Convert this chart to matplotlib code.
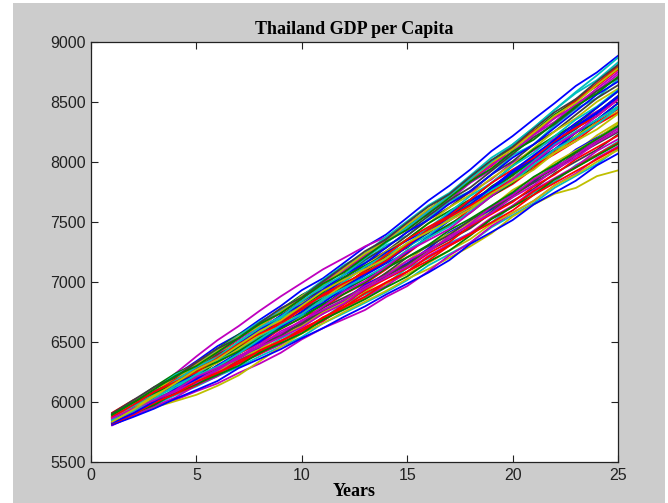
import matplotlib
matplotlib.use("Agg")
import matplotlib.pyplot as plt
from matplotlib.patches import Rectangle

# simulation years
years = list(range(1, 26))

# simulated GDP per capita paths, one row per run
gdp_paths = [
    [5895, 6000, 6115, 6222, 6340, 6465, 6562, 6685, 6800, 6932, 7030, 7160, 7292, 7396, 7536, 7678, 7802, 7938, 8091, 8216, 8356, 8491, 8634, 8747, 8885],
    [5845, 5925, 6035, 6137, 6210, 6335, 6442, 6520, 6650, 6742, 6875, 6970, 7057, 7186, 7316, 7418, 7512, 7648, 7796, 7906, 8006, 8156, 8284, 8382, 8530],
    [5885, 5995, 6075, 6197, 6310, 6395, 6522, 6650, 6740, 6862, 6995, 7090, 7217, 7356, 7456, 7598, 7732, 7838, 7986, 8126, 8236, 8386, 8524, 8632, 8770],
    [5825, 5905, 5975, 6057, 6130, 6215, 6292, 6380, 6460, 6542, 6655, 6740, 6827, 6916, 7016, 7138, 7232, 7328, 7456, 7556, 7656, 7786, 7884, 7982, 8110],
    [5865, 5975, 6095, 6237, 6380, 6515, 6632, 6760, 6880, 6992, 7105, 7200, 7297, 7376, 7476, 7558, 7652, 7748, 7856, 7996, 8096, 8196, 8324, 8422, 8520],
    [5835, 5915, 5985, 6087, 6150, 6225, 6332, 6400, 6480, 6572, 6655, 6750, 6837, 6926, 7026, 7108, 7202, 7298, 7406, 7546, 7646, 7736, 7784, 7882, 7930],
    [5855, 5955, 6025, 6097, 6200, 6275, 6382, 6450, 6560, 6642, 6755, 6840, 6927, 7046, 7136, 7258, 7352, 7448, 7576, 7676, 7776, 7906, 8004, 8102, 8230],
    [5905, 6005, 6125, 6237, 6320, 6445, 6562, 6650, 6770, 6892, 6985, 7110, 7237, 7366, 7466, 7598, 7732, 7878, 8006, 8106, 8256, 8396, 8504, 8642, 8790],
    [5815, 5915, 5985, 6087, 6200, 6285, 6402, 6490, 6610, 6702, 6785, 6900, 6987, 7106, 7236, 7368, 7472, 7608, 7716, 7816, 7946, 8086, 8194, 8332, 8440],
    [5875, 5985, 6055, 6177, 6300, 6375, 6502, 6620, 6700, 6832, 6955, 7030, 7177, 7306, 7386, 7528, 7672, 7758, 7896, 8056, 8146, 8306, 8444, 8532, 8690],
    [5805, 5885, 5955, 6017, 6090, 6155, 6242, 6320, 6410, 6522, 6615, 6690, 6767, 6876, 6966, 7088, 7222, 7328, 7466, 7576, 7676, 7806, 7904, 8032, 8130],
    [5825, 5895, 5955, 6007, 6060, 6135, 6222, 6340, 6460, 6572, 6695, 6790, 6917, 7036, 7126, 7258, 7382, 7478, 7606, 7706, 7836, 7976, 8084, 8222, 8330],
    [5865, 5945, 6055, 6137, 6250, 6335, 6452, 6540, 6660, 6782, 6875, 6960, 7087, 7216, 7306, 7408, 7542, 7678, 7776, 7886, 8026, 8166, 8274, 8412, 8550],
    [5895, 5975, 6085, 6167, 6280, 6365, 6442, 6560, 6680, 6772, 6855, 6980, 7077, 7166, 7296, 7428, 7562, 7668, 7766, 7906, 8046, 8156, 8294, 8402, 8540],
    [5910, 6015, 6095, 6217, 6330, 6435, 6552, 6640, 6760, 6882, 7005, 7100, 7227, 7356, 7486, 7588, 7722, 7858, 7966, 8116, 8256, 8366, 8514, 8652, 8800],
    [5835, 5905, 6015, 6077, 6160, 6275, 6342, 6420, 6530, 6602, 6695, 6820, 6897, 6986, 7116, 7198, 7322, 7408, 7496, 7636, 7746, 7836, 7974, 8062, 8170],
    [5890, 6005, 6115, 6197, 6320, 6435, 6522, 6650, 6770, 6862, 6985, 7120, 7217, 7346, 7486, 7588, 7722, 7828, 7976, 8086, 8226, 8366, 8474, 8612, 8750],
    [5845, 5945, 6015, 6087, 6190, 6255, 6332, 6440, 6510, 6592, 6705, 6780, 6867, 6986, 7066, 7158, 7262, 7358, 7486, 7576, 7676, 7806, 7894, 8002, 8100],
    [5870, 5975, 6055, 6167, 6280, 6365, 6482, 6600, 6690, 6812, 6905, 7030, 7157, 7256, 7386, 7518, 7622, 7758, 7896, 8006, 8146, 8256, 8394, 8532, 8640],
    [5820, 5915, 5985, 6087, 6160, 6265, 6342, 6450, 6570, 6652, 6735, 6850, 6977, 7066, 7156, 7278, 7412, 7508, 7606, 7736, 7836, 7966, 8104, 8202, 8300],
    [5850, 5955, 6065, 6147, 6260, 6345, 6462, 6550, 6630, 6752, 6875, 6970, 7097, 7196, 7286, 7418, 7552, 7658, 7756, 7896, 8006, 8106, 8244, 8352, 8490],
    [5900, 5995, 6105, 6227, 6310, 6435, 6552, 6670, 6760, 6882, 7015, 7140, 7237, 7376, 7506, 7638, 7742, 7888, 8036, 8146, 8286, 8436, 8574, 8682, 8830],
    [5810, 5885, 5965, 6037, 6140, 6215, 6322, 6400, 6480, 6592, 6675, 6790, 6877, 6966, 7086, 7218, 7312, 7408, 7536, 7636, 7766, 7866, 7964, 8092, 8190],
    [5880, 5985, 6095, 6177, 6290, 6405, 6492, 6610, 6700, 6822, 6915, 7000, 7127, 7256, 7356, 7488, 7622, 7728, 7866, 7976, 8116, 8256, 8364, 8502, 8610],
    [5855, 5935, 6045, 6127, 6200, 6305, 6382, 6460, 6570, 6652, 6765, 6850, 6937, 7056, 7146, 7268, 7362, 7458, 7586, 7726, 7826, 7926, 8054, 8152, 8250],
    [5830, 5935, 6045, 6157, 6240, 6355, 6472, 6560, 6680, 6772, 6895, 7020, 7117, 7246, 7346, 7438, 7572, 7678, 7776, 7916, 8026, 8166, 8304, 8412, 8550],
    [5885, 5965, 6075, 6157, 6230, 6345, 6432, 6510, 6630, 6722, 6805, 6930, 7027, 7116, 7246, 7378, 7482, 7578, 7716, 7826, 7966, 8106, 8214, 8352, 8460],
    [5815, 5895, 5995, 6067, 6140, 6245, 6322, 6400, 6510, 6592, 6675, 6790, 6907, 6996, 7086, 7208, 7302, 7398, 7526, 7626, 7756, 7856, 7954, 8062, 8160],
    [5895, 6005, 6085, 6207, 6320, 6405, 6532, 6620, 6750, 6872, 6965, 7100, 7197, 7336, 7436, 7578, 7682, 7828, 7936, 8086, 8226, 8336, 8484, 8592, 8730],
    [5860, 5935, 6005, 6107, 6180, 6255, 6362, 6440, 6550, 6632, 6745, 6830, 6947, 7076, 7176, 7308, 7402, 7498, 7626, 7766, 7866, 7996, 8094, 8192, 8320],
    [5875, 5975, 6085, 6197, 6280, 6395, 6482, 6600, 6720, 6842, 6935, 7060, 7187, 7286, 7416, 7548, 7682, 7788, 7926, 8066, 8206, 8316, 8454, 8592, 8700],
    [5810, 5875, 5945, 6027, 6100, 6175, 6282, 6360, 6440, 6532, 6615, 6710, 6797, 6896, 6986, 7078, 7182, 7318, 7416, 7516, 7646, 7746, 7844, 7972, 8070],
    [5865, 5965, 6035, 6147, 6260, 6375, 6462, 6580, 6700, 6792, 6915, 7040, 7137, 7226, 7356, 7488, 7592, 7688, 7826, 7966, 8106, 8216, 8314, 8452, 8590],
    [5840, 5915, 5985, 6087, 6160, 6235, 6342, 6420, 6500, 6612, 6695, 6810, 6937, 7026, 7116, 7238, 7332, 7468, 7566, 7666, 7796, 7896, 8024, 8122, 8220],
    [5880, 5955, 6065, 6177, 6260, 6375, 6492, 6580, 6700, 6792, 6875, 7000, 7127, 7226, 7316, 7448, 7582, 7718, 7826, 7966, 8076, 8216, 8354, 8462, 8600],
    [5885, 5995, 6105, 6187, 6310, 6425, 6542, 6630, 6750, 6882, 6975, 7110, 7237, 7336, 7476, 7608, 7712, 7858, 7996, 8106, 8246, 8386, 8494, 8642, 8780],
    [5825, 5925, 5995, 6097, 6210, 6285, 6362, 6470, 6550, 6662, 6785, 6870, 6957, 7076, 7206, 7298, 7392, 7518, 7616, 7716, 7846, 7946, 8074, 8172, 8280],
    [5870, 5975, 6085, 6167, 6280, 6365, 6482, 6600, 6720, 6812, 6935, 7060, 7157, 7286, 7416, 7518, 7652, 7758, 7896, 8036, 8146, 8286, 8424, 8562, 8670],
    [5835, 5905, 5975, 6077, 6150, 6225, 6302, 6410, 6490, 6572, 6685, 6770, 6857, 6956, 7046, 7168, 7262, 7388, 7526, 7626, 7726, 7856, 7954, 8052, 8150],
    [5860, 5965, 6075, 6187, 6270, 6385, 6472, 6550, 6670, 6792, 6885, 6970, 7097, 7226, 7356, 7458, 7552, 7688, 7826, 7936, 8036, 8176, 8284, 8382, 8520],
    [5875, 5985, 6065, 6177, 6290, 6375, 6502, 6620, 6710, 6842, 6965, 7060, 7197, 7326, 7456, 7588, 7722, 7858, 8006, 8146, 8286, 8436, 8584, 8722, 8870],
    [5845, 5915, 6015, 6087, 6160, 6265, 6382, 6460, 6540, 6622, 6735, 6820, 6947, 7036, 7126, 7248, 7382, 7478, 7576, 7706, 7806, 7936, 8034, 8162, 8260],
    [5905, 6015, 6125, 6207, 6330, 6445, 6532, 6660, 6780, 6872, 7005, 7130, 7257, 7356, 7496, 7628, 7732, 7878, 8016, 8126, 8276, 8416, 8524, 8672, 8810],
    [5850, 5955, 6035, 6147, 6230, 6345, 6432, 6510, 6630, 6752, 6845, 6930, 7057, 7156, 7246, 7378, 7512, 7618, 7716, 7856, 7996, 8106, 8244, 8352, 8490],
    [5890, 5995, 6105, 6217, 6300, 6415, 6532, 6650, 6740, 6862, 6985, 7080, 7207, 7336, 7436, 7568, 7702, 7838, 7946, 8086, 8186, 8326, 8464, 8572, 8710],
    [5820, 5895, 5995, 6067, 6170, 6245, 6322, 6430, 6510, 6592, 6705, 6790, 6877, 6996, 7086, 7178, 7302, 7398, 7496, 7596, 7726, 7826, 7924, 8022, 8120],
    [5855, 5965, 6045, 6117, 6230, 6345, 6432, 6550, 6640, 6722, 6845, 6940, 7067, 7196, 7296, 7388, 7522, 7658, 7766, 7866, 8006, 8146, 8254, 8352, 8460],
    [5830, 5905, 6015, 6087, 6190, 6265, 6372, 6490, 6570, 6682, 6765, 6850, 6967, 7056, 7176, 7268, 7362, 7488, 7626, 7726, 7856, 7956, 8054, 8182, 8280],
    [5870, 5945, 6055, 6167, 6250, 6325, 6442, 6560, 6650, 6732, 6855, 6980, 7077, 7166, 7296, 7428, 7532, 7628, 7726, 7866, 7976, 8076, 8214, 8322, 8420],
    [5825, 5905, 6005, 6107, 6190, 6305, 6412, 6500, 6620, 6732, 6825, 6950, 7067, 7166, 7296, 7418, 7542, 7648, 7786, 7926, 8056, 8186, 8324, 8452, 8590],
    [5895, 5995, 6075, 6157, 6260, 6335, 6422, 6530, 6610, 6702, 6815, 6900, 6997, 7116, 7206, 7308, 7432, 7528, 7636, 7746, 7876, 7976, 8084, 8192, 8300],
    [5875, 5975, 6085, 6167, 6250, 6365, 6482, 6570, 6650, 6772, 6895, 6990, 7077, 7176, 7306, 7438, 7542, 7638, 7746, 7856, 7966, 8066, 8174, 8312, 8410],
    [5845, 5925, 6025, 6137, 6220, 6295, 6402, 6520, 6640, 6732, 6855, 6950, 7037, 7136, 7266, 7368, 7462, 7588, 7726, 7836, 7976, 8106, 8204, 8312, 8450],
    [5865, 5945, 6015, 6097, 6210, 6285, 6362, 6470, 6590, 6672, 6795, 6920, 7007, 7126, 7256, 7348, 7442, 7578, 7716, 7856, 7996, 8136, 8244, 8382, 8520],
    [5835, 5935, 6045, 6157, 6270, 6355, 6472, 6590, 6680, 6802, 6925, 7020, 7107, 7196, 7326, 7418, 7512, 7608, 7736, 7836, 7936, 8076, 8174, 8272, 8400],
]

x_ticks = [0, 5, 10, 15, 20, 25]
y_ticks = [5500, 6000, 6500, 7000, 7500, 8000, 8500, 9000]

# old matlab colour order
colours = [(0, 0, 1), (0, 0.5, 0), (1, 0, 0), (0, 0.75, 0.75),
           (0.75, 0, 0.75), (0.75, 0.75, 0), (0.25, 0.25, 0.25)]

fig = plt.figure(figsize=(6.68, 5.03), dpi=100, facecolor="white")
# grey window background, leaving the thin white strip at the edges
bg = Rectangle((13 / 668, 0), (665 - 13) / 668, 500 / 503,
               transform=fig.transFigure, facecolor="#cccccc",
               edgecolor="none", zorder=-10)
fig.add_artist(bg)

ax = fig.add_axes([91 / 668, 41 / 503, 527 / 668, 420 / 503])
ax.set_zorder(1)
ax.set_facecolor("white")

n_col = len(colours)
for i, path in enumerate(gdp_paths):
    # shift the colour each block of 7 so colours don't line up with rows
    c = colours[(i + i // n_col) % n_col]
    ax.plot(years, path, color=c, linewidth=1.3)

ax.set_xlim(0, 25)
ax.set_ylim(5500, 9000)
ax.set_xticks(x_ticks)
ax.set_yticks(y_ticks)
ax.tick_params(direction="in", top=True, right=True, length=5, width=0.8,
               labelsize=11.5, colors="#222222", pad=4)
for lab in ax.get_xticklabels() + ax.get_yticklabels():
    lab.set_fontfamily("Liberation Sans")
for s in ax.spines.values():
    s.set_linewidth(0.9)
    s.set_color("#222222")

ax.set_title("Thailand GDP per Capita", fontfamily="Liberation Serif",
             fontweight="bold", fontsize=13, pad=6)
ax.set_xlabel("Years", fontfamily="Liberation Serif", fontweight="bold",
              fontsize=13, labelpad=0)

fig.savefig("out.png", dpi=100, facecolor=fig.get_facecolor())
